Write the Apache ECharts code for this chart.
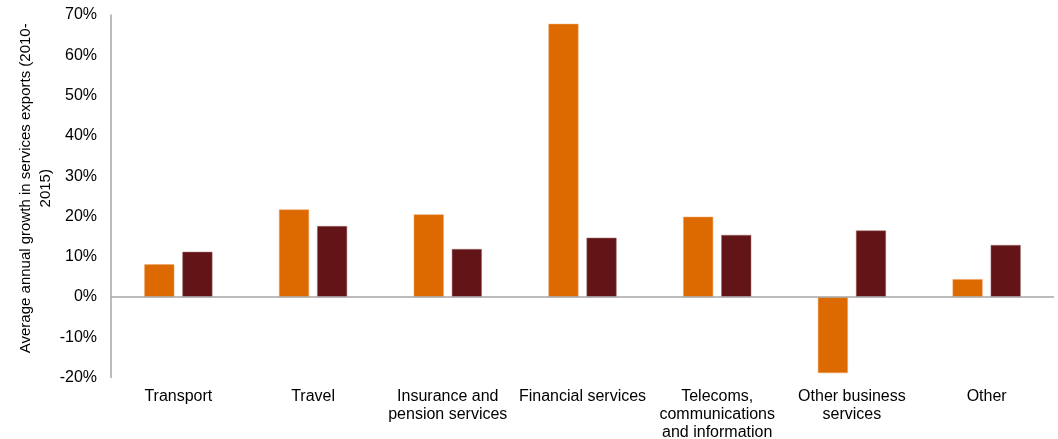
<!DOCTYPE html>
<html><head><meta charset="utf-8">
<script src="https://cdn.jsdelivr.net/npm/echarts@6/dist/echarts.min.js"></script>
<style>html,body{margin:0;padding:0;background:#fff}#c{width:1058px;height:439px}</style>
</head><body><div id="c"></div>
<script>
const categories = ["Transport", "Travel", "Insurance and\npension services", "Financial services", "Telecoms,\ncommunications\nand information", "Other business\nservices", "Other"];
const seriesA = [8.1, 21.7, 20.5, 67.8, 19.9, -18.9, 4.4];
const seriesB = [11.2, 17.6, 11.9, 14.7, 15.4, 16.5, 12.9];
const yTicks = [-20, -10, 0, 10, 20, 30, 40, 50, 60, 70];

const chart = echarts.init(document.getElementById('c'));
const font = 'Liberation Sans, Arial, sans-serif';
chart.setOption({
  animation: false,
  grid: {left: 111, right: 4, top: 15, bottom: 61.5, containLabel: false, outerBoundsMode: 'none'},
  xAxis: {
    type: 'category', data: categories,
    axisLine: {show: false, onZero: false},
    axisTick: {show: false},
    axisLabel: {color: '#000', fontFamily: font, fontSize: 16, margin: 10, lineHeight: 18, interval: 0}
  },
  yAxis: {
    type: 'value', min: yTicks[0], max: yTicks[yTicks.length - 1], interval: 10,
    name: 'Average annual growth in services exports (2010-\n2015)',
    nameLocation: 'middle', nameGap: 55, nameRotate: 90, nameMoveOverlap: false,
    nameTextStyle: {color: '#000', fontFamily: font, fontSize: 15, lineHeight: 20, padding: [0, 0, 0, 16]},
    axisLine: {show: true, lineStyle: {color: '#a6a6a6', width: 1.5}},
    axisTick: {show: false},
    splitLine: {show: false},
    axisLabel: {color: '#000', fontFamily: font, fontSize: 16, margin: 14, formatter: v => v + '%'}
  },
  series: [
    {type: 'bar', data: seriesA, barWidth: 30, barGap: '27%', itemStyle: {color: '#DD6A00', borderColor: '#F0A060', borderWidth: 0.5},
     markLine: {silent: true, symbol: 'none', label: {show: false}, lineStyle: {color: '#a6a6a6', width: 1.5, type: 'solid'}, data: [{yAxis: 0}]}},
    {type: 'bar', data: seriesB, barWidth: 30, itemStyle: {color: '#631416', borderColor: '#A07070', borderWidth: 0.5}}
  ]
});
</script></body></html>
